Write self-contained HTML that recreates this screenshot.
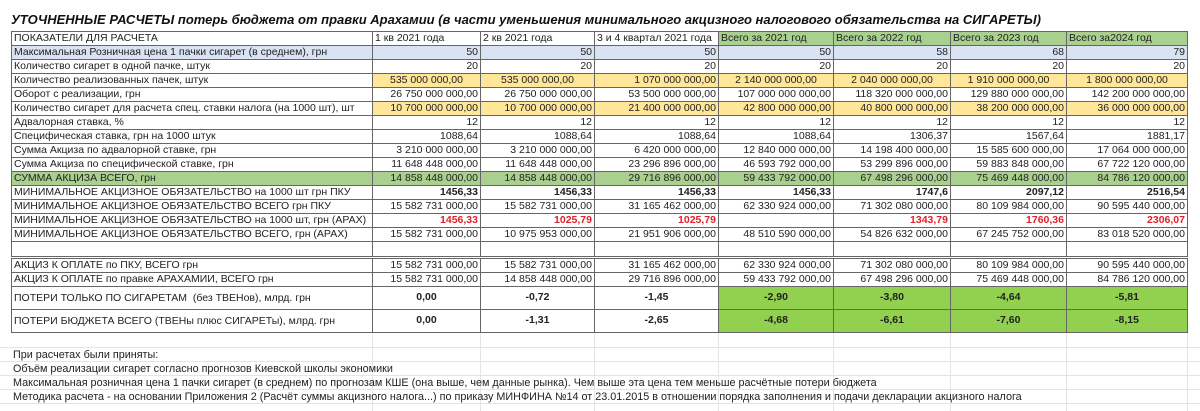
<!DOCTYPE html>
<html><head><meta charset="utf-8"><style>
body{margin:0;width:1200px;height:411px;background:#fff;overflow:hidden;position:relative;font-family:"Liberation Sans","DejaVu Sans",sans-serif;}
.title{position:absolute;left:11px;top:12px;font-size:13px;font-weight:bold;font-style:italic;white-space:nowrap;color:#111;}
table{position:absolute;left:11px;top:31px;border-collapse:collapse;table-layout:fixed;font-size:10.5px;color:#222;}
td{border:1px solid #666;height:13px;padding:0 2px;white-space:nowrap;overflow:hidden;text-align:right;line-height:13px;}
td.l{text-align:left;}
tr.h td{text-align:left;}
.g{background:#a9d08e;}
.b{background:#dae3f3;}
.y{background:#ffe699;}
.bg{background:#92d050;}
.bold{font-weight:bold;}
.red{color:#e0202a;font-weight:bold;}
tr.blank td{height:14px;border-bottom:3px double #666;}
tr.p td{height:21px;font-weight:bold;text-align:center;line-height:18px;vertical-align:top;padding-top:1px;}
tr.p td.l{font-weight:normal;text-align:left;line-height:21px;vertical-align:bottom;padding-top:0;}
.notes{position:absolute;left:13px;top:348px;font-size:10.8px;color:#222;}
.notes div{height:14px;line-height:14px;white-space:nowrap;}
.grid{position:absolute;left:0;width:1200px;height:1px;background:#e4e4e4;}
.vg{position:absolute;top:332px;height:79px;width:1px;background:#e4e4e4;}
</style></head><body>
<div class="grid" style="top:347px"></div><div class="grid" style="top:361px"></div><div class="grid" style="top:375px"></div><div class="grid" style="top:389px"></div><div class="grid" style="top:403px"></div>
<div class="vg" style="left:372px"></div><div class="vg" style="left:480px"></div><div class="vg" style="left:594px"></div><div class="vg" style="left:718px"></div><div class="vg" style="left:833px"></div><div class="vg" style="left:950px"></div><div class="vg" style="left:1066px"></div><div class="vg" style="left:1187px"></div>
<div class="title">УТОЧНЕННЫЕ РАСЧЕТЫ потерь бюджета от правки Арахамии (в части уменьшения минимального акцизного налогового обязательства на СИГАРЕТЫ)</div>
<table>
<colgroup><col style="width:361px"><col style="width:108px"><col style="width:114px"><col style="width:124px"><col style="width:115px"><col style="width:117px"><col style="width:116px"><col style="width:121px"></colgroup>
<tr class="h"><td>ПОКАЗАТЕЛИ ДЛЯ РАСЧЕТА</td><td>1 кв 2021 года</td><td>2 кв 2021 года</td><td>3 и 4 квартал 2021 года</td><td class="g">Всего за 2021 год</td><td class="g">Всего за 2022 год</td><td class="g">Всего за 2023 год</td><td class="g">Всего за2024 год</td></tr>
<tr class="b"><td class="l">Максимальная Розничная цена 1 пачки сигарет (в среднем), грн</td><td>50</td><td>50</td><td>50</td><td>50</td><td>58</td><td>68</td><td>79</td></tr>
<tr><td class="l">Количество сигарет в одной пачке, штук</td><td>20</td><td>20</td><td>20</td><td>20</td><td>20</td><td>20</td><td>20</td></tr>
<tr><td class="l">Количество реализованных пачек, штук</td><td class="y" style="text-align:center">535 000 000,00</td><td class="y" style="text-align:center">535 000 000,00</td><td class="y">1 070 000 000,00</td><td class="y" style="text-align:center">2 140 000 000,00</td><td class="y" style="text-align:center">2 040 000 000,00</td><td class="y" style="text-align:center">1 910 000 000,00</td><td class="y" style="text-align:center">1 800 000 000,00</td></tr>
<tr><td class="l">Оборот с реализации, грн</td><td>26 750 000 000,00</td><td>26 750 000 000,00</td><td>53 500 000 000,00</td><td>107 000 000 000,00</td><td>118 320 000 000,00</td><td>129 880 000 000,00</td><td>142 200 000 000,00</td></tr>
<tr><td class="l">Количество сигарет для расчета спец. ставки налога (на 1000 шт), шт</td><td class="y">10 700 000 000,00</td><td class="y">10 700 000 000,00</td><td class="y">21 400 000 000,00</td><td class="y">42 800 000 000,00</td><td class="y">40 800 000 000,00</td><td class="y">38 200 000 000,00</td><td class="y">36 000 000 000,00</td></tr>
<tr><td class="l">Адвалорная ставка, %</td><td>12</td><td>12</td><td>12</td><td>12</td><td>12</td><td>12</td><td>12</td></tr>
<tr><td class="l">Специфическая ставка, грн на 1000 штук</td><td>1088,64</td><td>1088,64</td><td>1088,64</td><td>1088,64</td><td>1306,37</td><td>1567,64</td><td>1881,17</td></tr>
<tr><td class="l">Сумма Акциза по адвалорной ставке, грн</td><td>3 210 000 000,00</td><td>3 210 000 000,00</td><td>6 420 000 000,00</td><td>12 840 000 000,00</td><td>14 198 400 000,00</td><td>15 585 600 000,00</td><td>17 064 000 000,00</td></tr>
<tr><td class="l">Сумма Акциза по специфической ставке, грн</td><td>11 648 448 000,00</td><td>11 648 448 000,00</td><td>23 296 896 000,00</td><td>46 593 792 000,00</td><td>53 299 896 000,00</td><td>59 883 848 000,00</td><td>67 722 120 000,00</td></tr>
<tr class="g"><td class="l">СУММА АКЦИЗА ВСЕГО, грн</td><td>14 858 448 000,00</td><td>14 858 448 000,00</td><td>29 716 896 000,00</td><td>59 433 792 000,00</td><td>67 498 296 000,00</td><td>75 469 448 000,00</td><td>84 786 120 000,00</td></tr>
<tr class="bold"><td class="l" style="font-weight:normal">МИНИМАЛЬНОЕ АКЦИЗНОЕ ОБЯЗАТЕЛЬСТВО на 1000 шт грн ПКУ</td><td>1456,33</td><td>1456,33</td><td>1456,33</td><td>1456,33</td><td>1747,6</td><td>2097,12</td><td>2516,54</td></tr>
<tr><td class="l">МИНИМАЛЬНОЕ АКЦИЗНОЕ ОБЯЗАТЕЛЬСТВО ВСЕГО грн ПКУ</td><td>15 582 731 000,00</td><td>15 582 731 000,00</td><td>31 165 462 000,00</td><td>62 330 924 000,00</td><td>71 302 080 000,00</td><td>80 109 984 000,00</td><td>90 595 440 000,00</td></tr>
<tr><td class="l">МИНИМАЛЬНОЕ АКЦИЗНОЕ ОБЯЗАТЕЛЬСТВО на 1000 шт, грн (АРАХ)</td><td class="red">1456,33</td><td class="red">1025,79</td><td class="red">1025,79</td><td></td><td class="red">1343,79</td><td class="red">1760,36</td><td class="red">2306,07</td></tr>
<tr><td class="l">МИНИМАЛЬНОЕ АКЦИЗНОЕ ОБЯЗАТЕЛЬСТВО ВСЕГО, грн (АРАХ)</td><td>15 582 731 000,00</td><td>10 975 953 000,00</td><td>21 951 906 000,00</td><td>48 510 590 000,00</td><td>54 826 632 000,00</td><td>67 245 752 000,00</td><td>83 018 520 000,00</td></tr>
<tr class="blank"><td></td><td></td><td></td><td></td><td></td><td></td><td></td><td></td></tr>
<tr><td class="l">АКЦИЗ К ОПЛАТЕ по ПКУ, ВСЕГО грн</td><td>15 582 731 000,00</td><td>15 582 731 000,00</td><td>31 165 462 000,00</td><td>62 330 924 000,00</td><td>71 302 080 000,00</td><td>80 109 984 000,00</td><td>90 595 440 000,00</td></tr>
<tr><td class="l">АКЦИЗ К ОПЛАТЕ по правке АРАХАМИИ, ВСЕГО грн</td><td>15 582 731 000,00</td><td>14 858 448 000,00</td><td>29 716 896 000,00</td><td>59 433 792 000,00</td><td>67 498 296 000,00</td><td>75 469 448 000,00</td><td>84 786 120 000,00</td></tr>
<tr class="p"><td class="l">ПОТЕРИ ТОЛЬКО ПО СИГАРЕТАМ&nbsp; (без ТВЕНов), млрд. грн</td><td>0,00</td><td>-0,72</td><td>-1,45</td><td class="bg">-2,90</td><td class="bg">-3,80</td><td class="bg">-4,64</td><td class="bg">-5,81</td></tr>
<tr class="p"><td class="l">ПОТЕРИ БЮДЖЕТА ВСЕГО (ТВЕНы плюс СИГАРЕТы), млрд. грн</td><td>0,00</td><td>-1,31</td><td>-2,65</td><td class="bg">-4,68</td><td class="bg">-6,61</td><td class="bg">-7,60</td><td class="bg">-8,15</td></tr>
</table>
<div class="notes">
<div>При расчетах были приняты:</div>
<div>Объём реализации сигарет согласно прогнозов Киевской школы экономики</div>
<div>Максимальная розничная цена 1 пачки сигарет (в среднем) по прогнозам КШЕ (она выше, чем данные рынка). Чем выше эта цена тем меньше расчётные потери бюджета</div>
<div>Методика расчета - на основании Приложения 2 (Расчёт суммы акцизного налога...) по приказу МИНФИНА №14 от 23.01.2015 в отношении порядка заполнения и подачи декларации акцизного налога</div>
</div>
</body></html>
